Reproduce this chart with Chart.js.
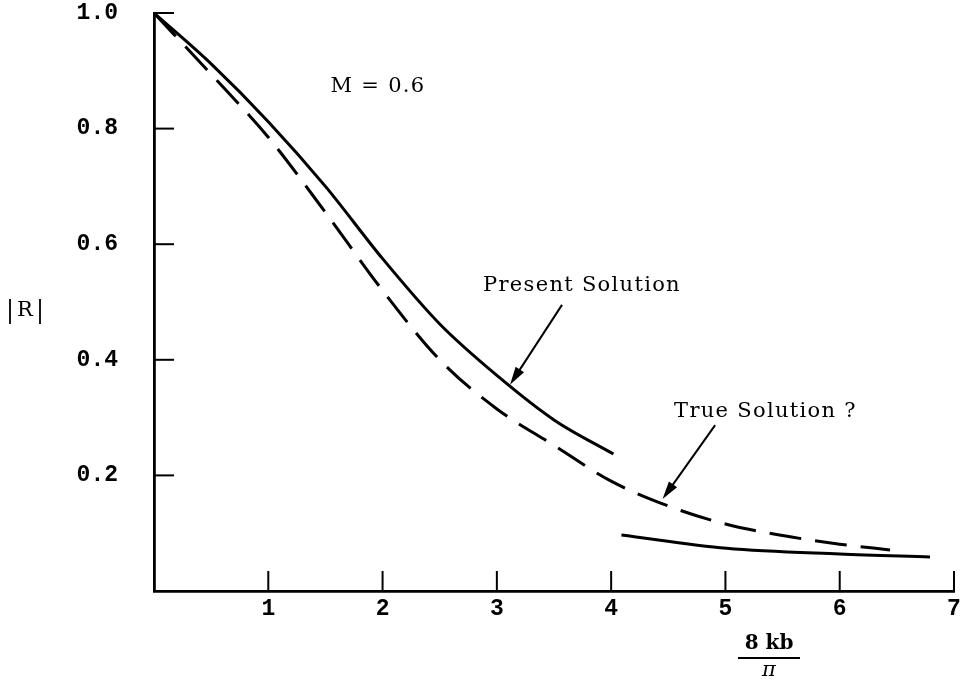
<!DOCTYPE html>
<html>
<head>
<meta charset="utf-8">
<script src="https://cdn.jsdelivr.net/npm/chart.js@4.4.1/dist/chart.umd.min.js"></script>
<style>
  html, body { margin: 0; padding: 0; background: #fff; }
  canvas { display: block; }
</style>
</head>
<body>
<canvas id="myChart" width="963" height="683"></canvas>
<script>
// present solution, first branch (solid)
const presentX = [0, 0.5, 1.0, 1.5, 2.0, 2.5, 3.0, 3.5, 4.02];
const presentY = [1.0, 0.912, 0.812, 0.70, 0.575, 0.462, 0.373, 0.296, 0.237];
// present solution, second branch (solid)
const tailX = [4.09, 5.01, 6.0, 6.79];
const tailY = [0.097, 0.074, 0.064, 0.059];
// true solution? (dashed)
const trueX = [0, 0.5, 1.0, 1.5, 2.0, 2.5, 3.0, 3.5, 4.0, 4.5, 5.0, 5.5, 6.0, 6.44];
const trueY = [1.0, 0.894, 0.785, 0.655, 0.52, 0.40, 0.315, 0.252, 0.19, 0.147, 0.116, 0.096, 0.081, 0.071];

const xTicks = [1, 2, 3, 4, 5, 6, 7];
const yTicks = [0.2, 0.4, 0.6, 0.8, 1.0];

const notes = [
  { text: "M = 0.6", x: 1.96, y: 0.872 },
  { text: "Present Solution", x: 3.745, y: 0.528 },
  { text: "True Solution ?", x: 5.35, y: 0.31 }
];
const arrows = [
  { from: [3.57, 0.495], to: [3.115, 0.357] },
  { from: [4.91, 0.287], to: [4.45, 0.159] }
];

function toPoints(xs, ys) {
  const pts = [];
  for (let i = 0; i < xs.length; i++) {
    pts.push({ x: xs[i], y: ys[i] });
  }
  return pts;
}

const serif = "'DejaVu Serif', serif";
const tickFont = { family: "'Liberation Mono', monospace", size: 23, weight: "bold" };

const extras = {
  id: "extras",
  afterDraw(chart) {
    const ctx = chart.ctx;
    const xs = chart.scales.x;
    const ys = chart.scales.y;
    const left = chart.chartArea.left;
    const bottom = chart.chartArea.bottom;

    ctx.save();
    ctx.strokeStyle = "#000";
    ctx.fillStyle = "#000";
    ctx.lineWidth = 2;

    // tick marks drawn inside the axes
    yTicks.forEach(v => {
      const py = ys.getPixelForValue(v);
      ctx.beginPath();
      ctx.moveTo(left, py);
      ctx.lineTo(left + 20, py);
      ctx.stroke();
    });
    xTicks.forEach(v => {
      const px = xs.getPixelForValue(v);
      ctx.beginPath();
      ctx.moveTo(px, bottom);
      ctx.lineTo(px, bottom - 20);
      ctx.stroke();
    });

    // notes
    ctx.font = "21px " + serif;
    ctx.letterSpacing = "1.3px";
    ctx.textAlign = "center";
    ctx.textBaseline = "middle";
    notes.forEach(n => {
      ctx.fillText(n.text, xs.getPixelForValue(n.x), ys.getPixelForValue(n.y));
    });
    ctx.letterSpacing = "0px";

    // arrows
    ctx.lineWidth = 2;
    arrows.forEach(a => {
      const x1 = xs.getPixelForValue(a.from[0]);
      const y1 = ys.getPixelForValue(a.from[1]);
      const x2 = xs.getPixelForValue(a.to[0]);
      const y2 = ys.getPixelForValue(a.to[1]);
      const ang = Math.atan2(y2 - y1, x2 - x1);
      const hl = 18, hw = 5;
      ctx.beginPath();
      ctx.moveTo(x1, y1);
      ctx.lineTo(x2 - Math.cos(ang) * hl * 0.8, y2 - Math.sin(ang) * hl * 0.8);
      ctx.stroke();
      ctx.beginPath();
      ctx.moveTo(x2, y2);
      ctx.lineTo(x2 - Math.cos(ang) * hl - Math.sin(ang) * hw, y2 - Math.sin(ang) * hl + Math.cos(ang) * hw);
      ctx.lineTo(x2 - Math.cos(ang) * hl + Math.sin(ang) * hw, y2 - Math.sin(ang) * hl - Math.cos(ang) * hw);
      ctx.closePath();
      ctx.fill();
    });

    // y axis title |R|
    ctx.font = "21px " + serif;
    ctx.textAlign = "center";
    ctx.fillText("R", 25, 311);
    ctx.lineWidth = 1.8;
    ctx.beginPath();
    ctx.moveTo(10, 299); ctx.lineTo(10, 324);
    ctx.moveTo(40, 299); ctx.lineTo(40, 324);
    ctx.stroke();

    // x axis title 8 kb / pi
    ctx.font = "bold 20px " + serif;
    ctx.fillText("8 kb", 769, 644);
    ctx.lineWidth = 2;
    ctx.beginPath();
    ctx.moveTo(738, 658); ctx.lineTo(800, 658);
    ctx.stroke();
    ctx.font = "italic 21px " + serif;
    ctx.fillText("\u03c0", 769, 671);
    ctx.restore();
  }
};

const ctx = document.getElementById("myChart").getContext("2d");
const myChart = new Chart(ctx, {
  type: "scatter",
  data: {
    datasets: [
      {
        label: "Present Solution",
        data: toPoints(presentX, presentY),
        showLine: true,
        borderColor: "#000",
        borderWidth: 3,
        pointRadius: 0,
        cubicInterpolationMode: "monotone"
      },
      {
        label: "Present Solution (2)",
        data: toPoints(tailX, tailY),
        showLine: true,
        borderColor: "#000",
        borderWidth: 3,
        pointRadius: 0,
        cubicInterpolationMode: "monotone"
      },
      {
        label: "True Solution?",
        data: toPoints(trueX, trueY),
        showLine: true,
        borderColor: "#000",
        borderWidth: 3,
        borderDash: [32, 14],
        pointRadius: 0,
        cubicInterpolationMode: "monotone"
      }
    ]
  },
  options: {
    responsive: false,
    animation: false,
    layout: { padding: { left: 0, right: 9, top: 13, bottom: 0 } },
    plugins: {
      legend: { display: false },
      tooltip: { enabled: false }
    },
    scales: {
      x: {
        type: "linear",
        min: 0,
        max: 7,
        afterFit: s => { s.height = 92; s.paddingLeft = 0; s.paddingRight = 0; },
        grid: { display: false, drawTicks: false },
        border: { display: true, color: "#000", width: 2.8 },
        ticks: {
          stepSize: 1,
          padding: 4,
          color: "#000",
          font: tickFont,
          callback: v => (v === 0 ? "" : String(v))
        }
      },
      y: {
        type: "linear",
        min: 0,
        max: 1,
        afterFit: s => { s.width = 154; s.paddingTop = 0; s.paddingBottom = 0; },
        grid: { display: false, drawTicks: false },
        border: { display: true, color: "#000", width: 2.8 },
        ticks: {
          stepSize: 0.2,
          padding: 36,
          color: "#000",
          font: tickFont,
          callback: v => (v === 0 ? "" : v.toFixed(1))
        }
      }
    }
  },
  plugins: [extras]
});
</script>
</body>
</html>
